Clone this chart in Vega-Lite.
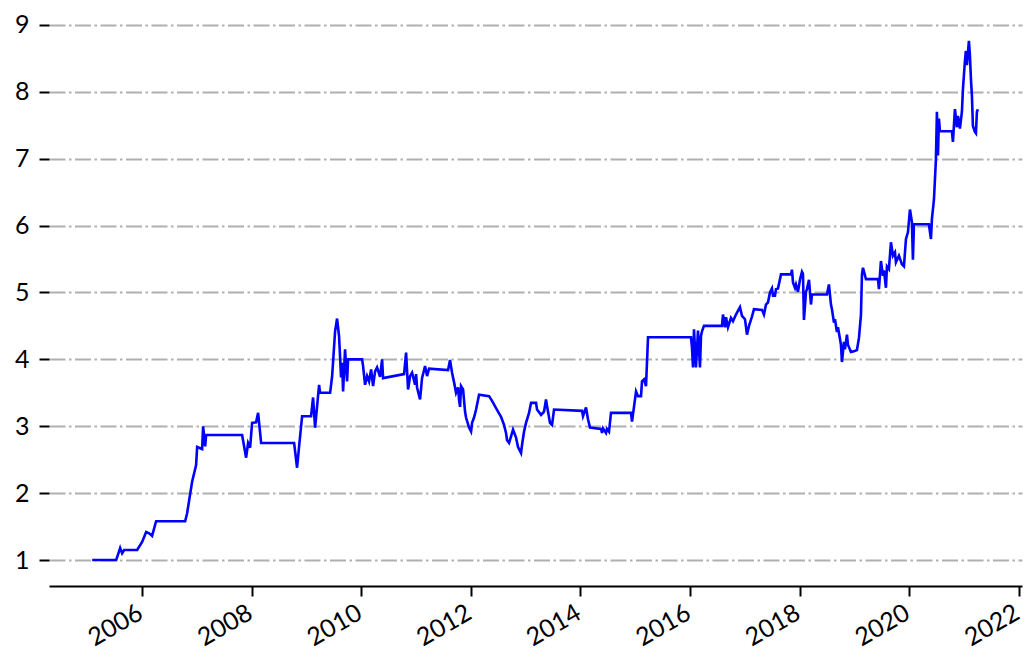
{
  "$schema": "https://vega.github.io/schema/vega-lite/v6.json",
  "autosize": "none",
  "width": 973,
  "height": 571,
  "padding": {"left": 49, "top": 15, "right": 13, "bottom": 83},
  "background": "white",
  "config": {"view": {"stroke": null}, "font": "Lato"},
  "data": {"values": [
    {"t": 2005.088, "v": 1.00}, {"t": 2005.526, "v": 1.00}, {"t": 2005.599, "v": 1.18}, {"t": 2005.635, "v": 1.10},
    {"t": 2005.672, "v": 1.15}, {"t": 2005.909, "v": 1.15}, {"t": 2006.000, "v": 1.27}, {"t": 2006.073, "v": 1.42},
    {"t": 2006.128, "v": 1.40}, {"t": 2006.182, "v": 1.36}, {"t": 2006.255, "v": 1.58}, {"t": 2006.785, "v": 1.58},
    {"t": 2006.821, "v": 1.70}, {"t": 2006.912, "v": 2.17}, {"t": 2006.985, "v": 2.42}, {"t": 2007.004, "v": 2.69},
    {"t": 2007.095, "v": 2.66}, {"t": 2007.113, "v": 3.00}, {"t": 2007.150, "v": 2.70}, {"t": 2007.168, "v": 2.87},
    {"t": 2007.825, "v": 2.87}, {"t": 2007.898, "v": 2.53}, {"t": 2007.934, "v": 2.75}, {"t": 2007.971, "v": 2.68},
    {"t": 2008.007, "v": 3.05}, {"t": 2008.080, "v": 3.06}, {"t": 2008.117, "v": 3.20}, {"t": 2008.172, "v": 2.75},
    {"t": 2008.774, "v": 2.75}, {"t": 2008.828, "v": 2.38}, {"t": 2008.865, "v": 2.70}, {"t": 2008.920, "v": 3.15},
    {"t": 2009.084, "v": 3.15}, {"t": 2009.120, "v": 3.43}, {"t": 2009.157, "v": 2.98}, {"t": 2009.230, "v": 3.62},
    {"t": 2009.248, "v": 3.50}, {"t": 2009.431, "v": 3.50}, {"t": 2009.467, "v": 3.74}, {"t": 2009.522, "v": 4.42},
    {"t": 2009.558, "v": 4.61}, {"t": 2009.595, "v": 4.34}, {"t": 2009.631, "v": 3.73}, {"t": 2009.650, "v": 3.95},
    {"t": 2009.668, "v": 3.52}, {"t": 2009.704, "v": 4.15}, {"t": 2009.741, "v": 3.67}, {"t": 2009.759, "v": 4.00},
    {"t": 2010.015, "v": 4.00}, {"t": 2010.033, "v": 3.90}, {"t": 2010.069, "v": 3.62}, {"t": 2010.106, "v": 3.75},
    {"t": 2010.142, "v": 3.67}, {"t": 2010.179, "v": 3.85}, {"t": 2010.215, "v": 3.60}, {"t": 2010.252, "v": 3.82},
    {"t": 2010.288, "v": 3.88}, {"t": 2010.343, "v": 3.74}, {"t": 2010.380, "v": 4.00}, {"t": 2010.398, "v": 3.72},
    {"t": 2010.781, "v": 3.78}, {"t": 2010.818, "v": 4.10}, {"t": 2010.854, "v": 3.55}, {"t": 2010.891, "v": 3.75},
    {"t": 2010.927, "v": 3.80}, {"t": 2010.982, "v": 3.62}, {"t": 2011.000, "v": 3.78}, {"t": 2011.018, "v": 3.58},
    {"t": 2011.073, "v": 3.40}, {"t": 2011.109, "v": 3.72}, {"t": 2011.164, "v": 3.90}, {"t": 2011.201, "v": 3.75},
    {"t": 2011.237, "v": 3.86}, {"t": 2011.584, "v": 3.84}, {"t": 2011.620, "v": 3.99}, {"t": 2011.657, "v": 3.80},
    {"t": 2011.693, "v": 3.66}, {"t": 2011.730, "v": 3.50}, {"t": 2011.767, "v": 3.58}, {"t": 2011.785, "v": 3.39},
    {"t": 2011.803, "v": 3.29}, {"t": 2011.821, "v": 3.60}, {"t": 2011.858, "v": 3.55}, {"t": 2011.894, "v": 3.22},
    {"t": 2011.912, "v": 3.13}, {"t": 2011.967, "v": 2.98}, {"t": 2012.004, "v": 2.92}, {"t": 2012.022, "v": 3.05},
    {"t": 2012.058, "v": 3.13}, {"t": 2012.095, "v": 3.25}, {"t": 2012.150, "v": 3.47}, {"t": 2012.332, "v": 3.45},
    {"t": 2012.387, "v": 3.38}, {"t": 2012.460, "v": 3.27}, {"t": 2012.496, "v": 3.22}, {"t": 2012.551, "v": 3.14},
    {"t": 2012.606, "v": 3.02}, {"t": 2012.642, "v": 2.90}, {"t": 2012.661, "v": 2.79}, {"t": 2012.697, "v": 2.75},
    {"t": 2012.734, "v": 2.85}, {"t": 2012.770, "v": 2.95}, {"t": 2012.825, "v": 2.83}, {"t": 2012.861, "v": 2.69},
    {"t": 2012.916, "v": 2.60}, {"t": 2012.934, "v": 2.72}, {"t": 2012.971, "v": 2.92}, {"t": 2013.007, "v": 3.05},
    {"t": 2013.062, "v": 3.20}, {"t": 2013.099, "v": 3.35}, {"t": 2013.190, "v": 3.35}, {"t": 2013.208, "v": 3.25},
    {"t": 2013.281, "v": 3.17}, {"t": 2013.336, "v": 3.22}, {"t": 2013.372, "v": 3.40}, {"t": 2013.391, "v": 3.30},
    {"t": 2013.445, "v": 3.05}, {"t": 2013.482, "v": 3.02}, {"t": 2013.518, "v": 3.25}, {"t": 2014.029, "v": 3.23},
    {"t": 2014.047, "v": 3.15}, {"t": 2014.102, "v": 3.28}, {"t": 2014.139, "v": 3.10}, {"t": 2014.175, "v": 2.98},
    {"t": 2014.376, "v": 2.96}, {"t": 2014.394, "v": 2.90}, {"t": 2014.412, "v": 2.97}, {"t": 2014.467, "v": 2.90},
    {"t": 2014.485, "v": 2.96}, {"t": 2014.522, "v": 2.92}, {"t": 2014.558, "v": 3.20}, {"t": 2014.923, "v": 3.20},
    {"t": 2014.942, "v": 3.07}, {"t": 2015.015, "v": 3.52}, {"t": 2015.051, "v": 3.45}, {"t": 2015.106, "v": 3.45},
    {"t": 2015.124, "v": 3.67}, {"t": 2015.161, "v": 3.70}, {"t": 2015.197, "v": 3.60}, {"t": 2015.234, "v": 4.33},
    {"t": 2016.018, "v": 4.33}, {"t": 2016.036, "v": 4.18}, {"t": 2016.055, "v": 3.88}, {"t": 2016.073, "v": 4.45},
    {"t": 2016.109, "v": 3.88}, {"t": 2016.146, "v": 4.43}, {"t": 2016.182, "v": 3.88}, {"t": 2016.201, "v": 4.35},
    {"t": 2016.219, "v": 4.42}, {"t": 2016.255, "v": 4.50}, {"t": 2016.584, "v": 4.50}, {"t": 2016.602, "v": 4.67},
    {"t": 2016.639, "v": 4.48}, {"t": 2016.657, "v": 4.63}, {"t": 2016.693, "v": 4.48}, {"t": 2016.748, "v": 4.62},
    {"t": 2016.785, "v": 4.57}, {"t": 2016.839, "v": 4.67}, {"t": 2016.858, "v": 4.70}, {"t": 2016.912, "v": 4.78},
    {"t": 2016.949, "v": 4.65}, {"t": 2017.004, "v": 4.60}, {"t": 2017.040, "v": 4.37}, {"t": 2017.077, "v": 4.50},
    {"t": 2017.131, "v": 4.64}, {"t": 2017.168, "v": 4.75}, {"t": 2017.314, "v": 4.74}, {"t": 2017.350, "v": 4.67},
    {"t": 2017.387, "v": 4.82}, {"t": 2017.423, "v": 4.85}, {"t": 2017.460, "v": 5.00}, {"t": 2017.496, "v": 5.06},
    {"t": 2017.515, "v": 4.95}, {"t": 2017.551, "v": 4.95}, {"t": 2017.569, "v": 5.05}, {"t": 2017.606, "v": 5.06},
    {"t": 2017.661, "v": 5.27}, {"t": 2017.843, "v": 5.27}, {"t": 2017.861, "v": 5.34}, {"t": 2017.880, "v": 5.15},
    {"t": 2017.916, "v": 5.07}, {"t": 2017.934, "v": 5.12}, {"t": 2017.971, "v": 5.01}, {"t": 2018.007, "v": 5.19},
    {"t": 2018.044, "v": 5.31}, {"t": 2018.062, "v": 5.28}, {"t": 2018.080, "v": 4.59}, {"t": 2018.117, "v": 5.01},
    {"t": 2018.135, "v": 5.05}, {"t": 2018.172, "v": 5.19}, {"t": 2018.208, "v": 4.82}, {"t": 2018.226, "v": 4.97},
    {"t": 2018.500, "v": 4.97}, {"t": 2018.536, "v": 5.12}, {"t": 2018.573, "v": 4.82}, {"t": 2018.591, "v": 4.75},
    {"t": 2018.628, "v": 4.55}, {"t": 2018.646, "v": 4.60}, {"t": 2018.682, "v": 4.41}, {"t": 2018.701, "v": 4.48},
    {"t": 2018.755, "v": 4.22}, {"t": 2018.774, "v": 3.96}, {"t": 2018.810, "v": 4.26}, {"t": 2018.828, "v": 4.15},
    {"t": 2018.865, "v": 4.37}, {"t": 2018.883, "v": 4.22}, {"t": 2018.938, "v": 4.11}, {"t": 2018.993, "v": 4.12},
    {"t": 2019.047, "v": 4.14}, {"t": 2019.084, "v": 4.32}, {"t": 2019.120, "v": 4.66}, {"t": 2019.139, "v": 5.27},
    {"t": 2019.157, "v": 5.37}, {"t": 2019.212, "v": 5.20},
    {"t": 2019.431, "v": 5.20}, {"t": 2019.449, "v": 5.05}, {"t": 2019.485, "v": 5.47}, {"t": 2019.522, "v": 5.25},
    {"t": 2019.540, "v": 5.33}, {"t": 2019.577, "v": 5.07}, {"t": 2019.595, "v": 5.39}, {"t": 2019.631, "v": 5.35},
    {"t": 2019.668, "v": 5.75}, {"t": 2019.704, "v": 5.55}, {"t": 2019.741, "v": 5.60}, {"t": 2019.759, "v": 5.45},
    {"t": 2019.814, "v": 5.55}, {"t": 2019.869, "v": 5.42}, {"t": 2019.905, "v": 5.39}, {"t": 2019.942, "v": 5.80},
    {"t": 2019.978, "v": 5.90}, {"t": 2020.015, "v": 6.24}, {"t": 2020.051, "v": 6.05}, {"t": 2020.069, "v": 5.49},
    {"t": 2020.088, "v": 6.02}, {"t": 2020.361, "v": 6.02}, {"t": 2020.398, "v": 5.80}, {"t": 2020.416, "v": 6.10},
    {"t": 2020.453, "v": 6.39}, {"t": 2020.489, "v": 6.99}, {"t": 2020.507, "v": 7.70}, {"t": 2020.526, "v": 7.05},
    {"t": 2020.544, "v": 7.60}, {"t": 2020.562, "v": 7.41}, {"t": 2020.781, "v": 7.41}, {"t": 2020.799, "v": 7.25},
    {"t": 2020.836, "v": 7.74}, {"t": 2020.872, "v": 7.47}, {"t": 2020.891, "v": 7.64}, {"t": 2020.927, "v": 7.45},
    {"t": 2020.964, "v": 7.71}, {"t": 2020.982, "v": 8.04}, {"t": 2021.018, "v": 8.46}, {"t": 2021.036, "v": 8.61},
    {"t": 2021.055, "v": 8.40}, {"t": 2021.091, "v": 8.76}, {"t": 2021.109, "v": 8.55}, {"t": 2021.128, "v": 8.19},
    {"t": 2021.146, "v": 7.94}, {"t": 2021.164, "v": 7.49}, {"t": 2021.201, "v": 7.40}, {"t": 2021.219, "v": 7.38},
    {"t": 2021.237, "v": 7.70}, {"t": 2021.255, "v": 7.74}
  ]},
  "mark": {"type": "line", "color": "#0000ff", "strokeWidth": 2.6, "clip": true},
  "encoding": {
    "x": {
      "field": "t", "type": "quantitative",
      "scale": {"domain": [2004.30, 2022.06], "nice": false, "zero": false},
      "axis": {
        "title": null, "values": [2006, 2008, 2010, 2012, 2014, 2016, 2018, 2020, 2022],
        "format": "d", "grid": false,
        "domain": true, "domainColor": "#000000", "domainWidth": 2,
        "ticks": true, "tickColor": "#000000", "tickWidth": 2, "tickSize": 10,
        "labelAngle": -30, "labelAlign": "right", "labelBaseline": "top",
        "labelPadding": 4, "labelOffset": -8,
        "labelFont": "Lato", "labelFontSize": 25, "labelColor": "#000000"
      }
    },
    "y": {
      "field": "v", "type": "quantitative",
      "scale": {"domain": [0.612, 9.148], "nice": false, "zero": false},
      "axis": {
        "title": null, "values": [1, 2, 3, 4, 5, 6, 7, 8, 9], "format": "d",
        "domain": false,
        "ticks": true, "tickColor": "#000000", "tickWidth": 2, "tickSize": 10,
        "grid": true, "gridColor": "#b0b0b0", "gridWidth": 1.8, "gridDash": [16, 3.5, 2.5, 3.5],
        "labelPadding": 10, "labelFont": "Lato", "labelFontSize": 25, "labelColor": "#000000"
      }
    }
  }
}
